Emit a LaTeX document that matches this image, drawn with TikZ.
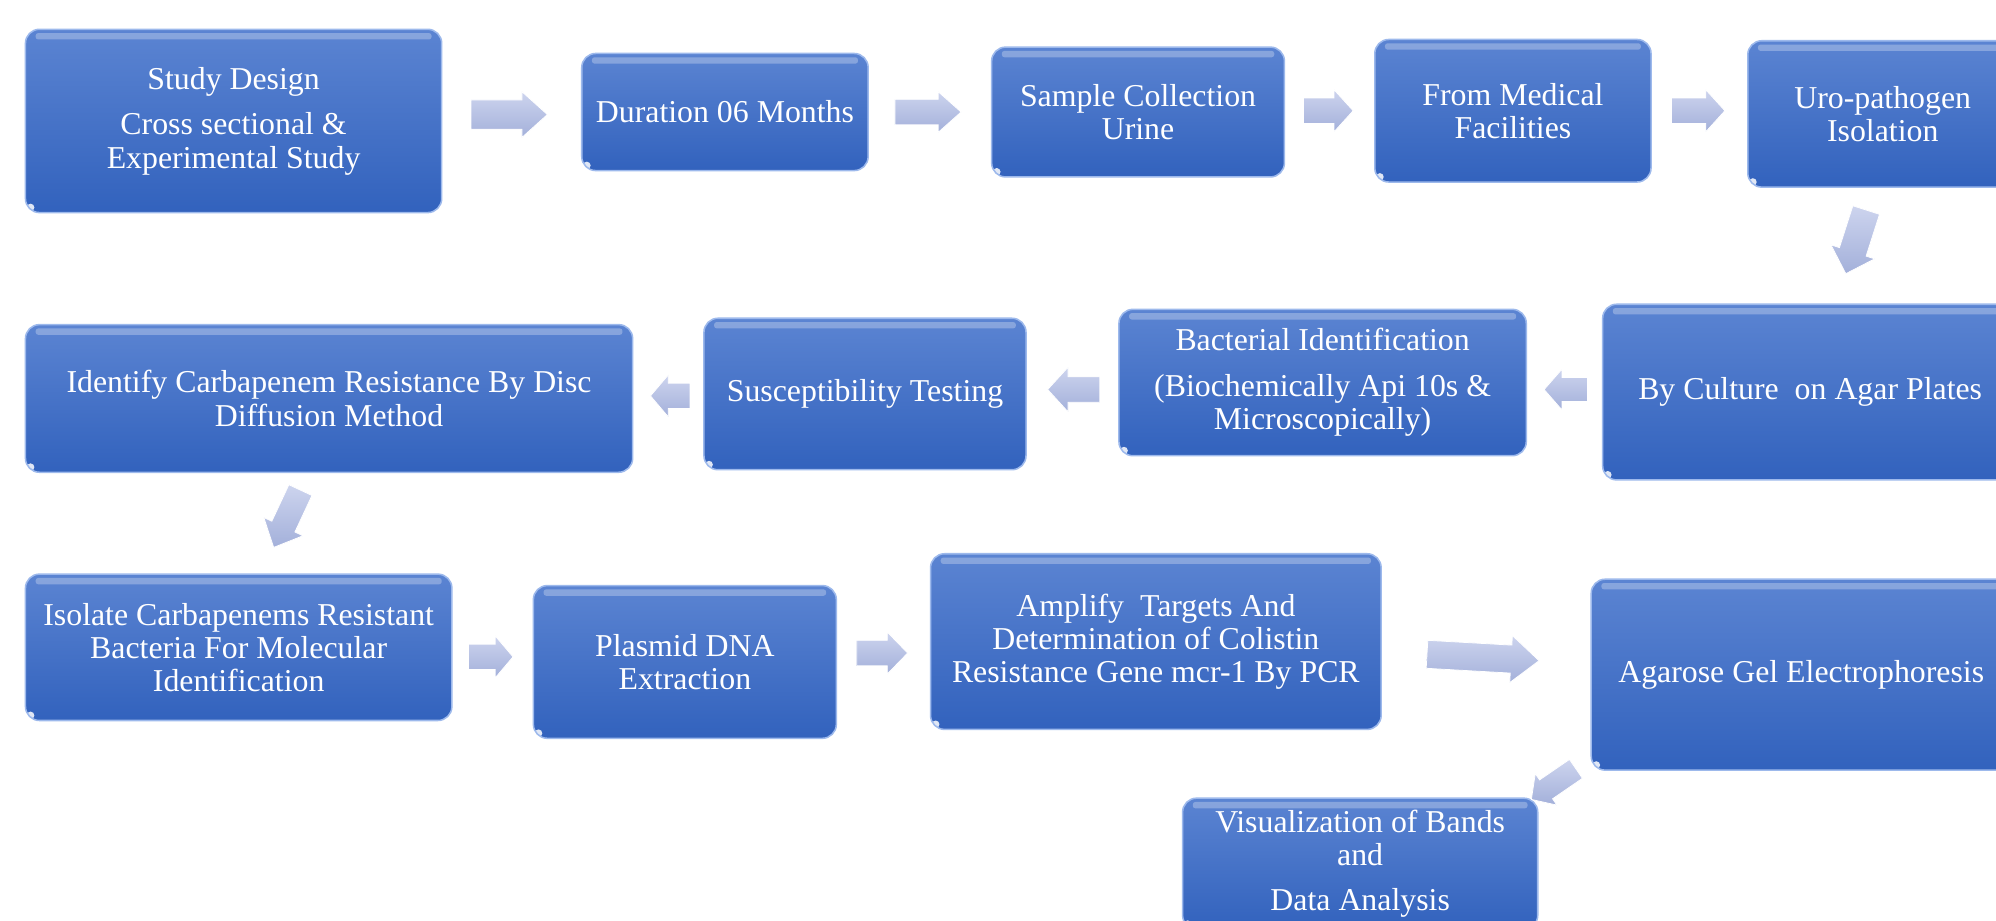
\documentclass[tikz,border=0pt]{standalone}
\usepackage{fontspec}
\setmainfont{Liberation Serif}
\usetikzlibrary{calc}
\definecolor{boxtop}{HTML}{5B84D2}
\definecolor{boxbot}{HTML}{3262BD}
\definecolor{boxedge}{HTML}{9DB9EC}
\definecolor{arrtop}{HTML}{CDD4EE}
\definecolor{arrbot}{HTML}{A3B0DA}
\tikzset{
  box/.style={rounded corners=11pt, top color=boxtop, bottom color=boxbot,
    draw=boxedge, line width=1.2pt, text=white, align=center,
    font=\fontsize{25}{26}\selectfont, inner sep=2pt,
    path picture={
      \fill[white,opacity=.28,rounded corners=2pt]
        ([xshift=8pt,yshift=-3pt]path picture bounding box.north west) rectangle
        ([xshift=-8pt,yshift=-8pt]path picture bounding box.north east);
      \fill[white,opacity=.85]
        ([xshift=4pt,yshift=4pt]path picture bounding box.south west) circle (3pt);
    }},
  arrowshade/.style={top color=arrtop, bottom color=arrbot, draw=white, line width=0.6pt}
}
% block arrow: #1 start, #2 tip, #3 half shaft, #4 half head, #5 head length
\newcommand\barrow[5]{%
  \coordinate (bah) at ($(#2)!#5!(#1)$);
  \shade[arrowshade]
    ($(#1)!#3!90:(#2)$) -- ($(bah)!#3!90:(#2)$) -- ($(bah)!#4!90:(#2)$) --
    (#2) -- ($(bah)!#4!-90:(#2)$) -- ($(bah)!#3!-90:(#2)$) --
    ($(#1)!#3!-90:(#2)$) -- cycle;
}
\begin{document}
\begin{tikzpicture}[x=1pt,y=-1pt]
\clip (0,0) rectangle (1568,723);
\fill[white] (0,0) rectangle (1568,723);

% row 1
\node[box, minimum width=327pt, minimum height=144pt] (b1) at (183.5,95)
  {Study Design\\[10pt]Cross sectional \&\\Experimental Study};
\node[box, minimum width=225pt, minimum height=92pt] (b2) at (569.5,88)
  {Duration 06 Months};
\node[box, minimum width=230pt, minimum height=102pt] (b3) at (894,88)
  {Sample Collection\\Urine};
\node[box, minimum width=217pt, minimum height=112pt] (b4) at (1188.5,87)
  {From Medical\\Facilities};
\node[box, minimum width=212pt, minimum height=115pt] (b5) at (1479,89.5)
  {Uro-pathogen\\Isolation};

% row 2
\node[box, minimum width=326pt, minimum height=138pt] (b6) at (1422,308)
  {By Culture~ on Agar Plates};
\node[box, minimum width=320pt, minimum height=115pt] (b7) at (1039,300.5)
  {Bacterial Identification\\[10pt](Biochemically Api 10s \&\\Microscopically)};
\node[box, minimum width=253pt, minimum height=119pt] (b8) at (679.5,309.5)
  {Susceptibility Testing};
\node[box, minimum width=477pt, minimum height=116pt] (b9) at (258.5,313)
  {Identify Carbapenem Resistance By Disc\\Diffusion Method};

% row 3
\node[box, minimum width=335pt, minimum height=115pt] (b10) at (187.5,508.5)
  {Isolate Carbapenems Resistant\\Bacteria For Molecular\\Identification};
\node[box, minimum width=238pt, minimum height=120pt] (b11) at (538,520)
  {Plasmid DNA\\Extraction};
\node[box, minimum width=354pt, minimum height=138pt] (b12) at (908,504)
  {Amplify~ Targets And\\Determination of Colistin\\Resistance Gene mcr-1 By PCR};
\node[box, minimum width=330pt, minimum height=150pt] (b13) at (1415,530)
  {Agarose Gel Electrophoresis};
\node[box, minimum width=279pt, minimum height=103pt] (b14) at (1068.5,678.5)
  {Visualization of Bands\\and\\[10pt]Data Analysis};

% arrow end points
\coordinate (a1s) at (370,90);   \coordinate (a1e) at (430,90);
\coordinate (a2s) at (703,88);   \coordinate (a2e) at (755,88);
\coordinate (a3s) at (1024,87);  \coordinate (a3e) at (1063,87);
\coordinate (a4s) at (1313,87);  \coordinate (a4e) at (1355,87);
\coordinate (a5s) at (1466,165); \coordinate (a5e) at (1450,215);
\coordinate (a6s) at (1247,306); \coordinate (a6e) at (1213,306);
\coordinate (a7s) at (864,306);  \coordinate (a7e) at (823,306);
\coordinate (a8s) at (542,311);  \coordinate (a8e) at (511,311);
\coordinate (a9s) at (236,385);  \coordinate (a9e) at (215,430);
\coordinate (a10s) at (368,516); \coordinate (a10e) at (403,516);
\coordinate (a11s) at (673,513); \coordinate (a11e) at (713,513);
\coordinate (a12s) at (1121,514);\coordinate (a12e) at (1209,519);
\coordinate (a13s) at (1238,604);\coordinate (a13e) at (1203,628);

\barrow{a1s}{a1e}{11.5pt}{18pt}{20pt}
\barrow{a2s}{a2e}{10pt}{16pt}{18pt}
\barrow{a3s}{a3e}{10pt}{16.5pt}{15pt}
\barrow{a4s}{a4e}{10pt}{16.5pt}{15pt}
\barrow{a5s}{a5e}{11pt}{18pt}{18pt}
\barrow{a6s}{a6e}{9.5pt}{16pt}{14pt}
\barrow{a7s}{a7e}{10pt}{17.5pt}{16pt}
\barrow{a8s}{a8e}{10pt}{16.5pt}{14pt}
\barrow{a9s}{a9e}{10pt}{17pt}{18pt}
\barrow{a10s}{a10e}{10pt}{16.5pt}{14pt}
\barrow{a11s}{a11e}{10pt}{16.5pt}{16pt}
\barrow{a12s}{a12e}{11pt}{18.5pt}{22pt}
\barrow{a13s}{a13e}{9pt}{15pt}{14pt}
\end{tikzpicture}
\end{document}
